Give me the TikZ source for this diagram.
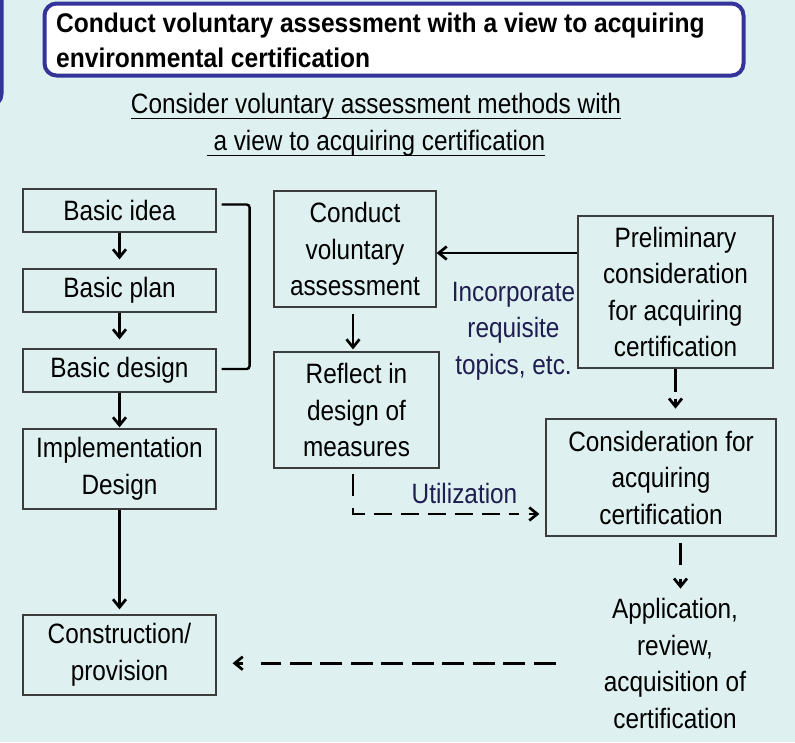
\documentclass[tikz,border=0pt]{standalone}
\usepackage{fontspec}
\setmainfont{Liberation Sans}[FakeStretch=0.87, BoldFeatures={FakeStretch=0.91}]
\usetikzlibrary{arrows.meta}
\definecolor{bg}{RGB}{223,240,240}
\definecolor{frameblue}{RGB}{51,51,153}
\definecolor{navy}{RGB}{30,30,80}
\definecolor{boxline}{RGB}{60,60,60}
\newcommand\myul[1]{\setbox0\hbox{#1}\rlap{\rule[-6pt]{\wd0}{1.8pt}}\box0}
\begin{document}
\begin{tikzpicture}[x=1pt,y=-1pt,
  every node/.style={font=\fontsize{28}{36.5}\selectfont, inner sep=0pt},
  box/.style={draw=boxline, line width=1.2pt, align=center},
  arr/.style={line width=2.7pt, -{Straight Barb[length=8pt,width=13pt]}},
  seg/.style={line width=2.7pt},
  label/.style={text=navy, align=center}]
\fill[bg] (0,0) rectangle (795,742);
\useasboundingbox (0,0) rectangle (795,742);
\clip (0,0) rectangle (795,742);
% left frame (part of an outer panel)
\draw[frameblue, line width=4pt, fill=white, rounded corners=12pt] (-60,-20) rectangle (1.5,106);
% title
\node[draw=frameblue, line width=4pt, fill=white, rounded corners=12pt,
      minimum width=699pt, minimum height=72pt] (title) at (394,39.5) {};
\node[anchor=north west, align=left, font=\bfseries\fontsize{27}{35}\selectfont] (titletext) at (56,12.5)
  {Conduct voluntary assessment with a view to acquiring\\environmental certification};
% subtitle
\node[anchor=north, align=center, font=\fontsize{28}{37}\selectfont] (sub) at (376,93)
  {\myul{Consider voluntary assessment methods with}\\\myul{\ a view to acquiring certification}};
% left column
\node[box, minimum width=193pt, minimum height=43pt] (idea) at (119.5,210.5) {Basic idea};
\node[box, minimum width=193pt, minimum height=43pt] (plan) at (119.5,290.5) {Basic plan};
\node[box, minimum width=193pt, minimum height=43pt] (design) at (119.5,370.5) {Basic design};
\node[box, minimum width=193pt, minimum height=80pt] (impl) at (119.5,469) {Implementation\\Design};
\node[box, minimum width=193pt, minimum height=80pt] (constr) at (119.5,655) {Construction/\\provision};
% middle column
\node[box, minimum width=162pt, minimum height=116pt] (conduct) at (355,249) {Conduct\\voluntary\\assessment};
\node[box, minimum width=165pt, minimum height=116pt] (reflect) at (356.5,410) {Reflect in\\design of\\measures};
% right column
\node[box, minimum width=195pt, minimum height=152pt] (prelim) at (675.5,292) {Preliminary\\consideration\\for acquiring\\certification};
\node[box, minimum width=230pt, minimum height=117pt] (consid) at (661,477.5) {Consideration for\\acquiring\\certification};
\node[anchor=north, align=center] (appl) at (675,598) {Application,\\review,\\acquisition of\\certification};
% labels
\node[label, anchor=north] (incorp) at (513.5,282) {Incorporate\\requisite\\topics, etc.};
\node[label, anchor=base] (util) at (464.5,503) {Utilization};
% connectors left
\draw[arr, shorten >=9pt] (idea) -- (plan);
\draw[arr, shorten >=9pt] (plan) -- (design);
\draw[arr, shorten >=1pt] (design) -- (impl);
\draw[arr, shorten >=5pt] (impl) -- (constr);
\draw[line width=2.4pt, rounded corners=3pt] ([xshift=5pt,yshift=6pt]idea.east) -- ++(28,0) |- ([xshift=5pt,yshift=1.5pt]design.east);
% connectors middle/right
\draw[arr, shorten <=6pt, shorten >=2pt] ([xshift=-2pt]conduct.south) -- ([xshift=-2pt]conduct.south |- reflect.north);
\draw[arr] ([yshift=39pt]prelim.west) -- ([yshift=39pt]prelim.west -| conduct.east);
% prelim -> consid (one dash, then tip)
\draw[seg] (prelim.south) -- ([yshift=-23pt]prelim.south);
\draw[arr] ([yshift=-30pt]prelim.south) -- ([yshift=-40pt]prelim.south);
% consid -> application (one dash, then tip)
\draw[seg] ([xshift=19.5pt,yshift=-6pt]consid.south) -- ([xshift=19.5pt,yshift=-28pt]consid.south);
\draw[arr] ([xshift=19.5pt,yshift=-42pt]consid.south) -- ([xshift=19.5pt,yshift=-52pt]consid.south);
% reflect -> consid (dashed, Utilization)
\draw[seg, dash pattern=on 22pt off 12pt on 18pt off 9pt on 18pt off 9pt on 18pt off 9pt on 18pt off 9pt on 18pt off 9pt on 18pt off 9pt on 18pt off 9pt]
  ([xshift=-3.5pt,yshift=-5pt]reflect.south) |- ([xshift=-26pt,yshift=-36.5pt]consid.west);
\draw[arr] ([xshift=-16pt,yshift=-36.5pt]consid.west) -- ([xshift=-6pt,yshift=-36.5pt]consid.west);
% application -> construction (dashed)
\draw[seg, dash pattern=on 22pt off 8.5pt] ([xshift=-48pt]appl.west) -- ([xshift=44pt]appl.west -| constr.east);
\draw[arr] ([xshift=26pt]appl.west -| constr.east) -- ([xshift=16pt]appl.west -| constr.east);
\end{tikzpicture}
\end{document}
